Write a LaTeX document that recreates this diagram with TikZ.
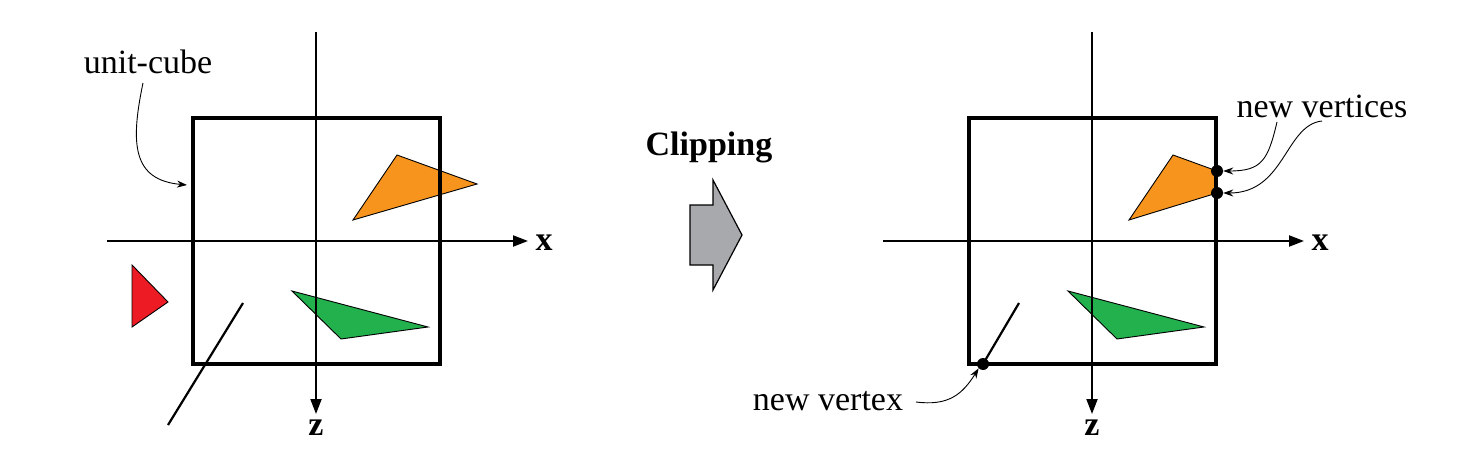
\documentclass[tikz,border=0pt]{standalone}
\usepackage{fontspec}
\setmainfont{Liberation Serif}
\usetikzlibrary{arrows.meta}
\definecolor{orng}{HTML}{F7941D}
\definecolor{grn}{HTML}{22B14C}
\definecolor{rd}{HTML}{ED1C24}
\definecolor{arrgray}{HTML}{A7A9AC}
\tikzset{
  cube/.style={line width=3.2pt, line join=miter},
  axis/.style={line width=2pt, -{Triangle[length=15pt,width=11pt]}},
  poly/.style={draw=black, line width=0.9pt, line join=miter},
  seg/.style={line width=2.2pt},
  note/.style={line width=0.9pt, -{Stealth[length=10pt,width=7pt]}},
  lbl/.style={font=\fontsize{34}{40}\selectfont, inner sep=0pt},
  axlbl/.style={font=\fontsize{34}{40}\selectfont\bfseries, inner sep=0pt},
  vdot/.style={circle, fill=black, minimum size=12pt, inner sep=0pt},
}
\begin{document}
\begin{tikzpicture}[x=1pt,y=-1pt]
\useasboundingbox (0,0) rectangle (1479,465);
% ---------- left panel ----------
\draw[poly, fill=grn] (292,291) -- (428,327) -- (341,339) -- cycle;
\draw[poly, fill=orng] (353,220) -- (397,155) -- (477,184) -- cycle;
\draw[poly, fill=rd] (132,265) -- (132,327) -- (168,302) -- cycle;
\draw[cube] (193,118) rectangle (440,364);
\coordinate (lxs) at (107,241); \coordinate (lxe) at (528,241);
\coordinate (lzs) at (316,32);  \coordinate (lze) at (316,414);
\draw[axis] (lxs) -- (lxe);
\draw[axis] (lzs) -- (lze);
\node[axlbl] (lx) at (544,243) {x};
\node[axlbl] (lz) at (316,428) {z};
\draw[seg] (243,303) -- (168,425);
\node[lbl] (uc) at (148,62) {unit-cube};
\coordinate (ucend) at (187,185);
\draw[note] (143,83) .. controls (130,145) and (133,180) .. (ucend);
% ---------- clipping arrow ----------
\node[axlbl] (clip) at (709,147) {Clipping};
\draw[line width=1.2pt, fill=arrgray, line join=miter]
  (690,205) -- (713,205) -- (713,180) -- (742,235) -- (713,290) -- (713,265) -- (690,265) -- cycle;
% ---------- right panel ----------
\draw[poly, fill=grn] (1068,291) -- (1204,327) -- (1117,339) -- cycle;
\draw[poly, fill=orng] (1129,220) -- (1173,155) -- (1217,171) -- (1217,193) -- cycle;
\draw[cube] (969,118) rectangle (1216,364);
\coordinate (rxs) at (883,241); \coordinate (rxe) at (1304,241);
\coordinate (rzs) at (1092,32);  \coordinate (rze) at (1092,414);
\draw[axis] (rxs) -- (rxe);
\draw[axis] (rzs) -- (rze);
\node[axlbl] (rx) at (1320,243) {x};
\node[axlbl] (rz) at (1092,428) {z};
\draw[seg] (1019,303) -- (983,364);
\node[vdot] (v1) at (1217,171) {};
\node[vdot] (v2) at (1217,193) {};
\node[vdot] (v3) at (983,364) {};
\node[lbl] (nvs) at (1322,106) {new vertices};
\node[lbl] (nv) at (828,401) {new vertex};
\draw[note] (1277,122) .. controls (1268,160) and (1262,171) .. (v1.east);
\draw[note] (1322,121) .. controls (1285,125) and (1285,193) .. (v2.east);
\draw[note] (916,402) .. controls (948,406) and (962,395) .. (v3.south west);
\end{tikzpicture}
\end{document}
